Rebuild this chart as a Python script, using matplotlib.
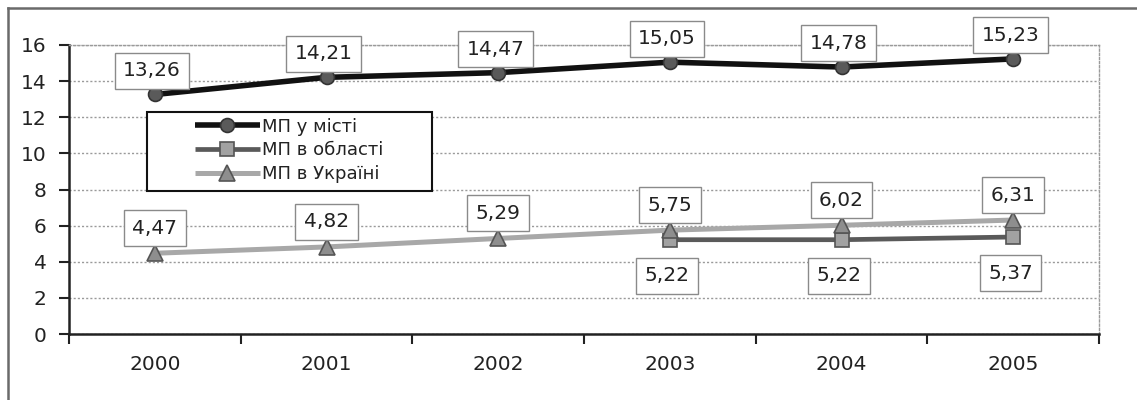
import matplotlib
matplotlib.use("Agg")
import matplotlib.pyplot as plt
from matplotlib.lines import Line2D
from matplotlib.patches import Rectangle
import numpy as np

# --- data ---------------------------------------------------------------
years = ["2000", "2001", "2002", "2003", "2004", "2005"]
city = [13.26, 14.21, 14.47, 15.05, 14.78, 15.23]          # МП у місті
region_years = ["2003", "2004", "2005"]
region = [5.22, 5.22, 5.37]                                 # МП в області
ukraine = [4.47, 4.82, 5.29, 5.75, 6.02, 6.31]              # МП в Україні
series_names = ["МП у місті", "МП в області", "МП в Україні"]
y_ticks = [0, 2, 4, 6, 8, 10, 12, 14, 16]

plt.rcParams["font.family"] = ["DejaVu Sans"]

W, H = 1137, 400
fig = plt.figure(figsize=(W / 100, H / 100), dpi=100)
fig.patch.set_facecolor("white")

# outer frame (top and left edges)
fig.add_artist(Line2D([8 / W, 1.0], [1 - 8 / H, 1 - 8 / H], transform=fig.transFigure,
                      color="#6a6a6a", lw=1.8))
fig.add_artist(Line2D([8 / W, 8 / W], [0.0, 1 - 8 / H], transform=fig.transFigure,
                      color="#6a6a6a", lw=1.8))

ax = fig.add_axes([69 / W, 1 - 334 / H, (1099 - 69) / W, (334 - 45) / H])

x = np.arange(len(years))
xr = np.array([years.index(y) for y in region_years])

l_region, = ax.plot(xr, region, color="#5a5a5a", lw=3.4, marker="s", ms=10,
                    mfc="#a2a2a2", mec="#555555", mew=1.2, zorder=3,
                    solid_capstyle="butt")
l_ukr, = ax.plot(x, ukraine, color="#a8a8a8", lw=3.6, marker="^", ms=11,
                 mfc="#8e8e8e", mec="#555555", mew=1.2, zorder=4,
                 solid_capstyle="butt")
l_city, = ax.plot(x, city, color="#111111", lw=4.0, marker="o", ms=10,
                  mfc="#5a5a5a", mec="#333333", mew=1.2, zorder=5,
                  solid_capstyle="butt")

FS = 14.5
box = dict(boxstyle="square,pad=0.42", fc="white", ec="#8a8a8a", lw=1.0)


def fmt(v):
    return f"{v:.2f}".replace(".", ",")


for xi, v in zip(x, city):
    ax.annotate(fmt(v), (xi, v), xytext=(-2, 17), textcoords="offset points",
                ha="center", va="center", fontsize=FS, color="#222222",
                bbox=box, zorder=6)
for xi, v in zip(x, ukraine):
    ax.annotate(fmt(v), (xi, v), xytext=(0, 18), textcoords="offset points",
                ha="center", va="center", fontsize=FS, color="#222222",
                bbox=box, zorder=6)
for xi, v in zip(xr, region):
    ax.annotate(fmt(v), (xi, v), xytext=(-2, -26), textcoords="offset points",
                ha="center", va="center", fontsize=FS, color="#222222",
                bbox=box, zorder=6)

# axes
ax.set_xlim(-0.5, len(years) - 0.5)
ax.set_ylim(0, 16)
ax.set_yticks(y_ticks)
ax.set_yticklabels([str(t) for t in y_ticks])
ax.set_xticks(np.arange(-0.5, len(years)), labels=[""] * (len(years) + 1))
ax.set_xticks(x, labels=years, minor=True)
ax.tick_params(axis="x", which="major", length=7, width=1.5, direction="out", color="#222222")
ax.tick_params(axis="x", which="minor", length=0, pad=15, labelsize=FS, labelcolor="#222222")
ax.tick_params(axis="y", length=7, width=1.5, direction="out", pad=9,
               labelsize=FS, labelcolor="#222222", color="#222222")

ax.yaxis.grid(True, color="#9a9a9a", ls=(0, (1.5, 1.5)), lw=1.0)
ax.set_axisbelow(True)
for s in ("left", "bottom"):
    ax.spines[s].set_color("#222222")
    ax.spines[s].set_linewidth(1.8)
for s in ("top", "right"):
    ax.spines[s].set_color("#9a9a9a")
    ax.spines[s].set_linewidth(1.0)
    ax.spines[s].set_linestyle((0, (1.5, 1.5)))

# legend with an Excel-style frame
fig.add_artist(Rectangle((147 / W, 1 - 191 / H), (432 - 147) / W, (191 - 112) / H,
                         transform=fig.transFigure, fc="white", ec="#111111",
                         lw=1.5, zorder=7))
leg = fig.legend([l_city, l_region, l_ukr], series_names, loc="upper left",
                 bbox_to_anchor=(192 / W, 1 - 115 / H), frameon=False,
                 fontsize=13, handlelength=3.6, handletextpad=0.15,
                 labelspacing=0.32, borderpad=0.15, borderaxespad=0)
leg.set_zorder(8)
for t in leg.get_texts():
    t.set_color("#222222")

fig.savefig("out.png", dpi=100, facecolor="white")
